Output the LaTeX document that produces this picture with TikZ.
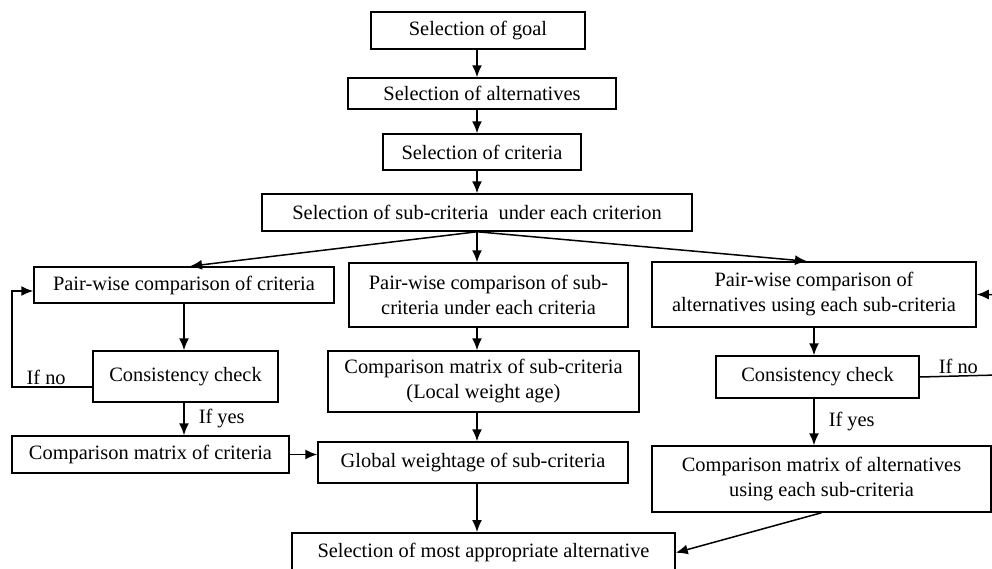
\documentclass[tikz,border=0pt]{standalone}
\usepackage{fontspec}
\setmainfont{Liberation Serif}
\usetikzlibrary{arrows.meta, positioning, calc}
\tikzset{
    box/.style={draw=black, line width=1.5pt, fill=white, align=center, inner sep=2pt, font=\fontsize{20.4}{25}\selectfont},
    arrow/.style={-{Latex[length=12pt, width=10pt]}, line width=1.5pt, black},
    lbl/.style={font=\fontsize{20.4}{25}\selectfont, inner sep=2pt}
}

\begin{document}
\begin{tikzpicture}[x=1pt, y=-1pt]
        \useasboundingbox (0,0) rectangle (992,568);
        % Define nodes of the main column
        \node [box, minimum width=214pt, minimum height=37pt] (goal) at (478,30.5) {Selection of goal};
        \node [box, minimum width=268pt, minimum height=31pt] (alts) at (482,93.5) {Selection of alternatives};
        \node [box, minimum width=198pt, minimum height=36pt] (crit) at (482,152) {Selection of criteria};
        \node [box, minimum width=430pt, minimum height=37pt] (subcrit) at (477,212.5) {Selection of sub-criteria\ \ under each criterion};

        % Left branch
        \node [box, minimum width=300pt, minimum height=36pt] (lpair) at (184,285) {Pair-wise comparison of criteria};
        \node [box, minimum width=185pt, minimum height=51pt] (lcons) at (185.5,376.5) {Consistency check};
        \node [box, minimum width=277pt, minimum height=37pt] (lmat) at (150.5,454.5) {Comparison matrix of criteria};

        % Middle branch
        \node [box, minimum width=279pt, minimum height=64pt] (mpair) at (488.5,295) {Pair-wise comparison of sub-\\criteria under each criteria};
        \node [box, minimum width=311pt, minimum height=61pt] (mmat) at (483.5,381.5) {Comparison matrix of sub-criteria\\(Local weight age)};
        \node [box, minimum width=310pt, minimum height=41pt] (global) at (473,462.5) {Global weightage of sub-criteria};

        % Right branch
        \node [box, minimum width=324pt, minimum height=65pt] (rpair) at (814,294.5) {Pair-wise comparison of\\alternatives using each sub-criteria};
        \node [box, minimum width=203pt, minimum height=42pt] (rcons) at (817.5,377) {Consistency check};
        \node [box, minimum width=339pt, minimum height=66pt] (rmat) at (821.5,479) {Comparison matrix of alternatives\\using each sub-criteria};

        \node [box, minimum width=383pt, minimum height=40pt, anchor=north] (select) at (483.5,532) {Selection of most appropriate alternative};

        % Loop corners
        \coordinate (lloop) at (12,387);
        \coordinate (rloop) at (997,375);

        \draw [arrow] (goal.south -| subcrit) -- (alts.north -| subcrit);
        \draw [arrow] (alts.south -| subcrit) -- (crit.north -| subcrit);
        \draw [arrow] (crit.south -| subcrit) -- (subcrit.north);
        \draw [arrow] (subcrit.south) -- ($(lpair.north)+(6,0)$);
        \draw [arrow] (subcrit.south) -- (subcrit.south |- mpair.north);
        \draw [arrow] (subcrit.south) -- ($(rpair.north)+(-7,0)$);

        \draw [arrow] (lpair.south) -- (lpair.south |- lcons.north);
        \draw [arrow] (lpair.south |- lcons.south) -- node[lbl, midway, right, xshift=12pt] {If yes} (lpair.south |- lmat.north);
        \draw [arrow] (lcons.west |- lloop) -- node[lbl, midway, above, xshift=-6pt] {If no} (lloop) |- ($(lpair.west)+(0,6)$);
        \draw [arrow] (lmat.east) -- (lmat.east -| global.west);

        \draw [arrow] (subcrit.south |- mpair.south) -- (subcrit.south |- mmat.north);
        \draw [arrow] (subcrit.south |- mmat.south) -- (subcrit.south |- global.north);
        \draw [arrow] (subcrit.south |- global.south) -- (subcrit.south |- select.north);

        \draw [arrow] (rpair.south) -- (rpair.south |- rcons.north);
        \draw [arrow] (rpair.south |- rcons.south) -- node[lbl, midway, right, xshift=12pt] {If yes} (rpair.south |- rmat.north);
        \draw [arrow] (rcons.east) -- node[lbl, midway, above] {If no} (rloop) |- (rpair.east);
        \draw [arrow] (rmat.south) -- (select.east);
    \end{tikzpicture}
\end{document}
